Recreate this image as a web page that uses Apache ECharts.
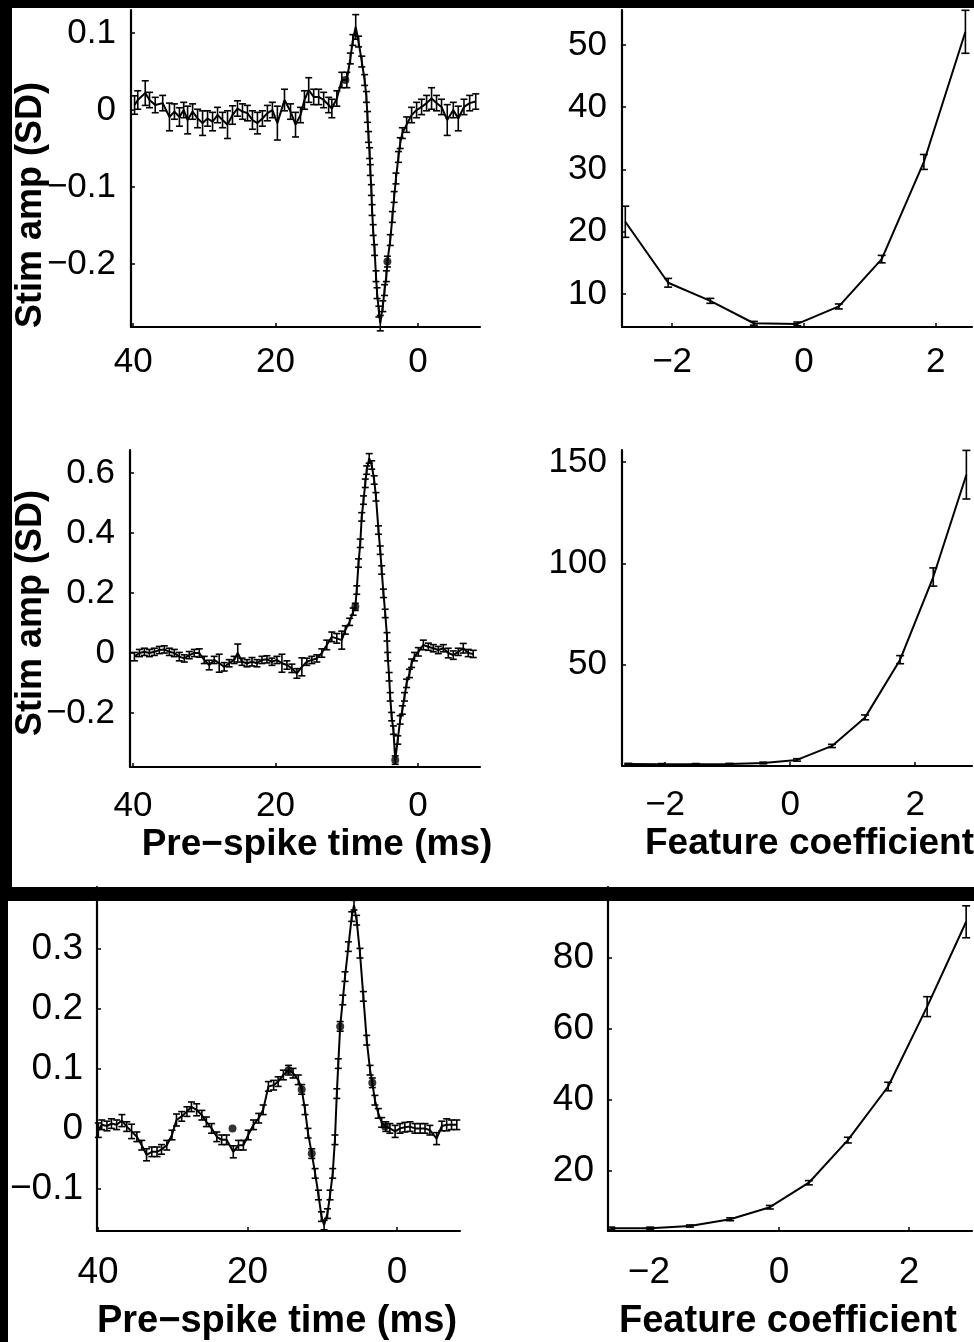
<!DOCTYPE html>
<html lang="en">

<head>
    <meta charset="UTF-8">
    <title>Spike-triggered features</title>
    <style>
        body {
            margin: 0;
            background: #000;
        }

        #chart {
            width: 974px;
            height: 1342px;
        }
    </style>
</head>

<body>
    <div id="chart"></div>
    <script src="https://cdn.jsdelivr.net/npm/echarts@6/dist/echarts.min.js"></script>
    <script>
        // top row: pre-spike time (ms) and stim amplitude (SD)
        const timeA = [39.8, 39.35, 38.3, 37.7, 36.9, 35.85, 34.9, 34.2, 33.5, 32.9, 32.35, 31.65, 30.95, 30.25, 29.55, 28.85, 28.15, 27.45, 26.75, 26.05, 25.35, 24.65, 23.95, 23.25, 22.55, 21.85, 21.15, 20.45, 19.75, 18.75, 17.9, 17.2, 16.5, 15.95, 15.35, 14.65, 13.95, 13.25, 12.55, 12.1, 11.4, 10.7, 10.0, 9.5, 9.15, 8.75, 8.35, 7.9, 7.5, 7.25, 7.1, 6.95, 6.8, 6.7, 6.55, 6.45, 6.3, 6.1, 5.9, 5.75, 5.5, 5.3, 4.95, 4.7, 4.45, 4.3, 3.9, 3.6, 3.35, 3.1, 2.75, 2.5, 2.2, 1.6, 0.9, 0.2, -0.5, -1.2, -1.9, -2.6, -3.3, -4.1, -4.95, -5.65, -6.45, -7.25, -8.1];
        const stimA = [0.0065, 0.013, 0.022, 0.013, 0.0065, 0.009, -0.009, -0.002, -0.009, 0, -0.013, -0.002, -0.011, -0.017, -0.011, -0.015, -0.0065, -0.013, -0.019, -0.0065, 0.002, -0.002, -0.004, -0.013, -0.017, -0.011, -0.004, 0, -0.017, 0.013, -0.002, -0.019, -0.0065, 0.013, 0.026, 0.017, 0.017, 0.013, 0.0065, 0.002, 0.015, 0.039, 0.039, 0.067, 0.091, 0.108, 0.089, 0.063, 0.039, 0.017, -0.009, -0.035, -0.056, -0.078, -0.104, -0.13, -0.156, -0.182, -0.216, -0.238, -0.262, -0.277, -0.255, -0.234, -0.216, -0.197, -0.169, -0.139, -0.113, -0.089, -0.061, -0.043, -0.030, -0.019, -0.0065, 0, 0.004, 0.009, 0.015, 0.009, 0.004, -0.013, 0, -0.011, 0.004, 0.009, 0.011];
        const errA = [0.012, 0.012, 0.016, 0.01, 0.01, 0.01, 0.018, 0.01, 0.012, 0.01, 0.018, 0.01, 0.012, 0.016, 0.01, 0.012, 0.01, 0.01, 0.018, 0.012, 0.01, 0.01, 0.01, 0.012, 0.014, 0.01, 0.01, 0.01, 0.022, 0.014, 0.01, 0.016, 0.01, 0.012, 0.016, 0.01, 0.01, 0.01, 0.01, 0.012, 0.01, 0.01, 0.01,
            0.007, 0.007, 0.016, 0.007, 0.007, 0.007, 0.007, 0.007, 0.007, 0.007, 0.007, 0.007, 0.007, 0.007, 0.007, 0.007, 0.007, 0.007, 0.01, 0.007, 0.007, 0.007, 0.007, 0.007, 0.007, 0.007, 0.007, 0.007, 0.007, 0.007,
            0.01, 0.01, 0.01, 0.01, 0.01, 0.014, 0.01, 0.01, 0.02, 0.01, 0.016, 0.01, 0.01, 0.01];
        const dotTimeA = [10.2, 4.3];
        const dotStimA = [0.039, -0.197];

        const coefB = [-2.71, -2.06, -1.42, -0.76, -0.1, 0.53, 1.18, 1.82, 2.45];
        const rateB = [21.6, 11.8, 8.9, 5.3, 5.2, 8.0, 15.6, 31.2, 52.1];
        const errB = [2.5, 0.7, 0.4, 0.3, 0.3, 0.4, 0.6, 1.2, 3.45];

        // middle row
        const timeC = [39.8, 39.1, 38.4, 37.7, 37.0, 36.3, 35.6, 34.9, 34.2, 33.5, 32.8, 32.1, 31.4, 30.7, 30.0, 29.3, 28.6, 27.9, 27.2, 26.5, 25.8, 25.3, 24.7, 24.0, 23.3, 22.6, 21.9, 21.2, 20.5, 19.8, 19.1, 18.4, 17.7, 17.0, 16.3, 15.6, 14.9, 14.2, 13.5, 12.8, 12.1, 11.4, 10.7, 10.2, 9.6, 9.1, 8.8, 8.6, 8.35, 8.1, 7.9, 7.65, 7.4, 7.2, 6.85, 6.5, 6.15, 5.9, 5.55, 5.3, 5.1, 4.85, 4.6, 4.35, 4.25, 4.05, 3.9, 3.7, 3.45, 3.2, 2.85, 2.5, 2.2, 1.9, 1.6, 1.2, 0.9, 0.5, -0.05, -0.75, -1.45, -2.15, -2.85, -3.55, -4.25, -4.95, -5.65, -6.35, -7.05, -7.75];
        const stimC = [-0.012, 0, 0.004, 0, 0.004, 0.01, 0.012, 0.004, 0, -0.012,
            -0.018, -0.007, 0, 0, -0.023, -0.04, -0.023, -0.034, -0.046, -0.034,
            -0.023, 0, -0.029, -0.034, -0.029, -0.034, -0.023, -0.021, -0.029, -0.023,
            -0.034, -0.04, -0.051, -0.068, -0.046, -0.029, -0.023, -0.018, 0, 0.027,
            0.054, 0.049, 0.043, 0.077, 0.104, 0.138, 0.154, 0.21, 0.3, 0.366,
            0.454, 0.51, 0.566, 0.61, 0.649, 0.627, 0.577, 0.521, 0.41, 0.343,
            0.277, 0.199, 0.132, 0.054, -0.012, -0.079, -0.146, -0.212, -0.257, -0.357,
            -0.29, -0.223, -0.19, -0.146, -0.101, -0.068, -0.034, -0.012, 0.004, 0.027,
            0.021, 0.016, 0.01, 0.016, 0, -0.007, 0.004, 0.016, 0, -0.003];
        const errC = [0.014, 0.012, 0.012, 0.012, 0.012, 0.012, 0.012, 0.012, 0.012, 0.014,
            0.012, 0.012, 0.012, 0.014, 0.012, 0.016, 0.012, 0.03, 0.014, 0.012,
            0.012, 0.03, 0.012, 0.012, 0.014, 0.012, 0.012, 0.012, 0.012, 0.012,
            0.03, 0.014, 0.014, 0.016, 0.03, 0.012, 0.012, 0.012, 0.014, 0.016,
            0.016, 0.016, 0.03, 0.014, 0.012, 0.012, 0.012, 0.014, 0.014, 0.014,
            0.014, 0.014, 0.014, 0.014, 0.016, 0.014, 0.014, 0.014, 0.014, 0.014,
            0.014, 0.014, 0.014, 0.014, 0.014, 0.014, 0.014, 0.014, 0.014, 0.014,
            0.014, 0.014, 0.014, 0.014, 0.014, 0.014, 0.014, 0.014, 0.014, 0.016,
            0.012, 0.012, 0.012, 0.012, 0.016, 0.014, 0.012, 0.016, 0.012, 0.012];
        const dotTimeC = [8.8, 3.2];
        const dotStimC = [0.154, -0.357];

        const coefD = [-2.59, -2.05, -1.51, -0.97, -0.43, 0.11, 0.67, 1.2, 1.76, 2.29, 2.82];
        const rateD = [1, 0.9, 0.9, 1, 1.5, 3.0, 9.9, 24, 52.5, 93.3, 143.8];
        const errD = [0.3, 0.3, 0.3, 0.3, 0.4, 0.6, 0.8, 1.2, 2, 4.5, 12];

        // bottom row
        const timeE = [39.95, 39.5, 38.8, 38.2, 37.5, 36.8, 36.15, 35.5, 34.8, 34.15, 33.5, 32.8, 32.1, 31.5, 30.8, 30.1, 29.5, 28.8, 28.1, 27.5, 26.8, 26.1, 25.5, 24.8, 24.1, 23.45, 22.8, 21.9, 21.2, 20.55, 19.9, 19.2, 18.5, 17.9, 17.2, 16.5, 15.9, 15.2, 14.5, 13.9, 13.2, 12.75, 12.3, 11.9, 11.4, 10.95, 10.5, 10.1, 9.75, 9.3, 8.95, 8.6, 8.3, 8.05, 7.85, 7.6, 7.25, 6.95, 6.5, 6.05, 5.75, 5.4, 4.95, 4.5, 4.05, 3.6, 3.3, 2.95, 2.5, 2.05, 1.5, 0.95, 0.25, -0.4, -1.05, -1.75, -2.4, -3.1, -3.75, -4.4, -5.3, -6.0, -6.65, -7.3, -8.0];
        const stimE = [-0.002, 0.007, 0.005, 0.009, 0.007, 0.014, 0.004, -0.004, -0.013, -0.027,
            -0.043, -0.038, -0.038, -0.034, -0.027, -0.01, 0.015, 0.021, 0.029, 0.037,
            0.032, 0.023, 0.012, 0.001, -0.013, -0.018, -0.018, -0.038, -0.027, -0.027,
            -0.01, 0.007, 0.018, 0.032, 0.071, 0.073, 0.079, 0.09, 0.098, 0.093,
            0.082, 0.066, 0.032, -0.007, -0.041, -0.074, -0.11, -0.146, -0.16, -0.141,
            -0.11, -0.074, -0.018, 0.059, 0.109, 0.171, 0.215, 0.254, 0.304, 0.354,
            0.373, 0.348, 0.293, 0.221, 0.148, 0.098, 0.077, 0.048, 0.026, 0.011,
            0.004, 0.001, -0.004, 0.001, 0.003, 0.004, 0.001, 0.001, 0.001, -0.002,
            -0.016, 0.005, 0.007, 0.007, 0.007];
        const errE = [0.012, 0.008, 0.008, 0.008, 0.008, 0.01, 0.008, 0.012, 0.008, 0.008,
            0.01, 0.008, 0.008, 0.008, 0.008, 0.008, 0.01, 0.008, 0.008, 0.008,
            0.01, 0.008, 0.008, 0.008, 0.008, 0.008, 0.008, 0.01, 0.008, 0.008,
            0.008, 0.008, 0.008, 0.008, 0.008, 0.008, 0.008, 0.008, 0.008, 0.008,
            0.008, 0.008, 0.008, 0.008, 0.008, 0.008, 0.008, 0.008, 0.008, 0.008,
            0.008, 0.008, 0.008, 0.008, 0.008, 0.008, 0.008, 0.008, 0.008, 0.008,
            0.008, 0.008, 0.008, 0.008, 0.008, 0.008, 0.008, 0.008, 0.008, 0.008,
            0.008, 0.008, 0.01, 0.008, 0.008, 0.008, 0.008, 0.008, 0.008, 0.008,
            0.01, 0.008, 0.01, 0.008, 0.008];
        const dotTimeE = [22.0, 14.5, 12.75, 11.4, 7.6, 3.3, 1.6];
        const dotStimE = [0.001, 0.098, 0.066, -0.041, 0.171, 0.077, 0.004];

        const coefF = [-2.58, -1.98, -1.37, -0.75, -0.14, 0.46, 1.06, 1.68, 2.28, 2.88];
        const rateF = [3.9, 3.9, 4.5, 6.4, 9.8, 16.7, 28.7, 43.8, 66.3, 90.2];
        const errF = [0.3, 0.3, 0.3, 0.4, 0.5, 0.6, 0.8, 1.2, 2.8, 4.5];

        // tick labels
        const timeTicks = [0, 20, 40];
        const coefTicks = [-2, 0, 2];
        const stimTicksA = [-0.2, -0.1, 0, 0.1];
        const rateTicksB = [10, 20, 30, 40, 50];
        const stimTicksC = [-0.2, 0, 0.2, 0.4, 0.6];
        const rateTicksD = [50, 100, 150];
        const stimTicksE = [-0.1, 0, 0.1, 0.2, 0.3];
        const rateTicksF = [20, 40, 60, 80];

        const FONT = '"Liberation Sans", Arial, Helvetica, sans-serif';
        const chart = echarts.init(document.getElementById('chart'));

        function fmt (v) {
            return (v < 0 ? '\u2212' : '') + Math.abs(v);
        }

        function axisBase (ticks, size, margin) {
            return {
                type: 'value',
                scale: true,
                splitLine: { show: false },
                axisLine: { show: true, onZero: false, lineStyle: { color: '#000', width: 2.2 } },
                axisTick: { show: true, inside: true, length: 4, customValues: ticks, lineStyle: { color: '#000', width: 1.5 } },
                axisLabel: { customValues: ticks, formatter: fmt, color: '#000', fontFamily: FONT, fontSize: size, margin: margin },
            };
        }

        function xAxis (gi, min, max, inverse, ticks, size, margin) {
            return Object.assign(axisBase(ticks, size, margin), { gridIndex: gi, min, max, inverse });
        }

        function yAxis (gi, min, max, ticks, size, margin) {
            return Object.assign(axisBase(ticks, size, margin), { gridIndex: gi, min, max });
        }

        function lineSeries (i, xs, ys, width) {
            return {
                type: 'line',
                xAxisIndex: i,
                yAxisIndex: i,
                data: xs.map((x, k) => [x, ys[k]]),
                showSymbol: false,
                lineStyle: { color: '#000', width: width },
                animation: false,
                z: 3,
            };
        }

        function errSeries (i, xs, ys, es, cap) {
            return {
                type: 'custom',
                xAxisIndex: i,
                yAxisIndex: i,
                data: xs.map((x, k) => [x, ys[k] - es[k], ys[k] + es[k]]),
                renderItem: function (params, api) {
                    const lo = api.coord([api.value(0), api.value(1)]);
                    const hi = api.coord([api.value(0), api.value(2)]);
                    const w = cap / 2;
                    const st = { stroke: '#000', lineWidth: 1.6 };
                    return {
                        type: 'group',
                        children: [
                            { type: 'line', shape: { x1: lo[0], y1: lo[1], x2: hi[0], y2: hi[1] }, style: st },
                            { type: 'line', shape: { x1: lo[0] - w, y1: lo[1], x2: lo[0] + w, y2: lo[1] }, style: st },
                            { type: 'line', shape: { x1: hi[0] - w, y1: hi[1], x2: hi[0] + w, y2: hi[1] }, style: st },
                        ],
                    };
                },
                animation: false,
                z: 4,
            };
        }

        function dotSeries (i, xs, ys) {
            return {
                type: 'scatter',
                xAxisIndex: i,
                yAxisIndex: i,
                data: xs.map((x, k) => [x, ys[k]]),
                symbolSize: 8,
                itemStyle: { color: '#000' },
                animation: false,
                z: 5,
            };
        }

        function label (text, x, y, size, align, rot) {
            return {
                type: 'text',
                x: x,
                y: y,
                rotation: rot || 0,
                z: 50,
                style: { text: text, font: 'bold ' + size + 'px ' + FONT, fill: '#000', align: align, verticalAlign: 'middle' },
            };
        }

        const option = {
            backgroundColor: '#000',
            animation: false,
            grid: [
                { left: 131, top: 10, width: 349, height: 317, outerBoundsMode: 'none' },
                { left: 622, top: 10, width: 350, height: 317, outerBoundsMode: 'none' },
                { left: 130, top: 450, width: 350, height: 317, outerBoundsMode: 'none' },
                { left: 622, top: 450, width: 350, height: 316, outerBoundsMode: 'none' },
                { left: 97, top: 887, width: 363, height: 344, outerBoundsMode: 'none' },
                { left: 608, top: 887, width: 364, height: 344, outerBoundsMode: 'none' },
            ],
            xAxis: [
                xAxis(0, -8.7, 40.3, true, timeTicks, 35, 18),
                xAxis(1, -2.76, 2.55, false, coefTicks, 35, 18),
                xAxis(2, -8.7, 40.42, true, timeTicks, 35, 22),
                xAxis(3, -2.69, 2.91, false, coefTicks, 35, 22),
                xAxis(4, -8.43, 40.13, true, timeTicks, 37, 23),
                xAxis(5, -2.63, 2.97, false, coefTicks, 37, 23),
            ],
            yAxis: [
                yAxis(0, -0.282, 0.13, stimTicksA, 35, 15),
                yAxis(1, 4.7, 55.6, rateTicksB, 35, 15),
                yAxis(2, -0.38, 0.677, stimTicksC, 35, 15),
                yAxis(3, 0, 156, rateTicksD, 35, 15),
                yAxis(4, -0.17, 0.4033, stimTicksE, 37, 14),
                yAxis(5, 3.1, 100.0, rateTicksF, 37, 14),
            ],
            graphic: {
                elements: [
                    { type: 'rect', shape: { x: 12, y: 8, width: 962, height: 879 }, style: { fill: '#fff' }, z: -10 },
                    { type: 'rect', shape: { x: 8, y: 901, width: 966, height: 441 }, style: { fill: '#fff' }, z: -10 },
                    { type: 'rect', shape: { x: 0, y: 887, width: 974, height: 14 }, style: { fill: '#000' }, z: 100 },
                    label('Stim amp (SD)', 31, 205, 36, 'center', Math.PI / 2),
                    label('Stim amp (SD)', 31, 613, 36, 'center', Math.PI / 2),
                    label('Pre\u2212spike time (ms)', 317, 845, 37, 'center'),
                    label('Feature coefficient', 645, 844, 37, 'left'),
                    label('Pre\u2212spike time (ms)', 277, 1322, 38, 'center'),
                    label('Feature coefficient', 619, 1322, 38, 'left'),
                ],
            },
            series: [
                lineSeries(0, timeA, stimA, 2),
                errSeries(0, timeA, stimA, errA, 7),
                dotSeries(0, dotTimeA, dotStimA),
                lineSeries(1, coefB, rateB, 2),
                errSeries(1, coefB, rateB, errB, 8),
                lineSeries(2, timeC, stimC, 2),
                errSeries(2, timeC, stimC, errC, 7),
                dotSeries(2, dotTimeC, dotStimC),
                lineSeries(3, coefD, rateD, 2),
                errSeries(3, coefD, rateD, errD, 8),
                lineSeries(4, timeE, stimE, 2),
                errSeries(4, timeE, stimE, errE, 7),
                dotSeries(4, dotTimeE, dotStimE),
                lineSeries(5, coefF, rateF, 2),
                errSeries(5, coefF, rateF, errF, 8),
            ],
        };

        chart.setOption(option);
    </script>
</body>

</html>
